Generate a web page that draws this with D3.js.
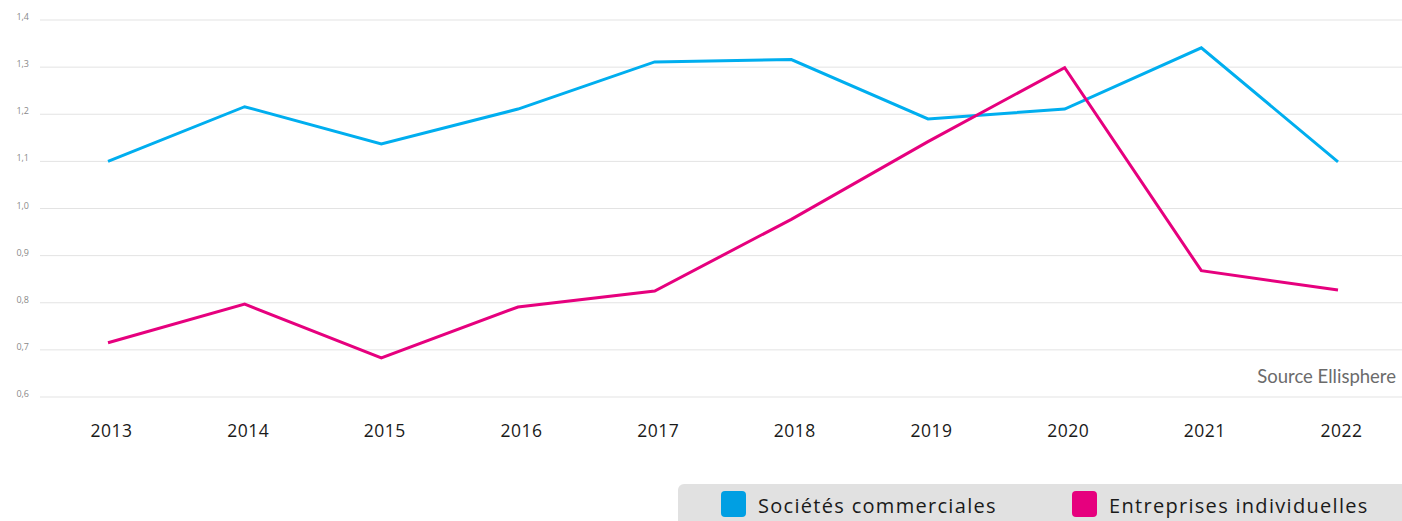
<!DOCTYPE html>
<html><head><meta charset="utf-8">
<script src="https://cdn.jsdelivr.net/npm/d3@7"></script>
<style>html,body{margin:0;padding:0;background:#fff;overflow:hidden}</style>
</head><body>
<svg id="chart" width="1402" height="521"></svg>
<script>
const years = ["2013","2014","2015","2016","2017","2018","2019","2020","2021","2022"];
const societes = [1.10,1.216,1.137,1.211,1.311,1.316,1.190,1.211,1.341,1.099];
const entreprises = [0.715,0.797,0.683,0.791,0.825,0.977,1.142,1.299,0.868,0.827];
const yTicks = [0.6,0.7,0.8,0.9,1.0,1.1,1.2,1.3,1.4];
const seriesNames = ["Sociétés commerciales","Entreprises individuelles"];
const seriesColors = ["#00AEEF","#E6007E"];
const legendColors = ["#009FE3","#E6007E"];

const svg = d3.select("#chart");
const x = d3.scalePoint().domain(years).range([108,1338]);
const y = d3.scaleLinear().domain([0.6,1.4]).range([397,20]);
const fmt = d => d3.format(".1f")(d).replace(".", ",");

// grid
const yAxis = d3.axisLeft(y).tickValues(yTicks).tickFormat(fmt).tickSize(0).tickPadding(0);
const gy = svg.append("g").attr("transform","translate(29,0)").call(yAxis);
gy.select(".domain").remove();
gy.selectAll("text").attr("fill","#8a8a8a").style("font-family","'Open Sans',sans-serif").style("font-size","9px").attr("dy","-0.05em");
svg.append("g").selectAll("line").data(yTicks).join("line")
  .attr("x1",40).attr("x2",1402).attr("y1",d=>y(d)).attr("y2",d=>y(d))
  .attr("stroke","#e3e3e3").attr("stroke-width",1);

// x axis
const xAxis = d3.axisBottom(x).tickSize(0).tickPadding(0);
const gx = svg.append("g").attr("transform","translate(3,437)").call(xAxis);
gx.select(".domain").remove();
gx.selectAll("text").attr("fill","#1a1a1a").attr("dy","0").style("font-family","'Open Sans',sans-serif").style("font-size","17.5px").style("letter-spacing","0.5px");

// lines
const line = d3.line().x((d,i)=>x(years[i])).y(d=>y(d));
[societes, entreprises].forEach((s,i)=>{
  svg.append("path").datum(s).attr("d",line).attr("fill","none")
    .attr("stroke",seriesColors[i]).attr("stroke-width",3).attr("stroke-linejoin","miter");
});

// source
svg.append("text").attr("x",1396).attr("y",383).attr("text-anchor","end")
  .attr("fill","#6b6b6b").style("font-family","'Lato',sans-serif").style("font-size","18.5px").text("Source Ellisphere");

// legend
svg.append("rect").attr("x",678).attr("y",484).attr("width",740).attr("height",50).attr("rx",6).attr("fill","#e1e1e1");
const legX = [721,1072];
seriesNames.forEach((n,i)=>{
  svg.append("rect").attr("x",legX[i]).attr("y",491).attr("width",25).attr("height",26).attr("rx",4).attr("fill",legendColors[i]);
  svg.append("text").attr("x",legX[i]+37).attr("y",513).attr("fill","#1a1a1a")
    .style("font-family","'Open Sans',sans-serif").style("font-size","20px").style("letter-spacing","1.3px").text(n);
});
</script>
</body></html>
